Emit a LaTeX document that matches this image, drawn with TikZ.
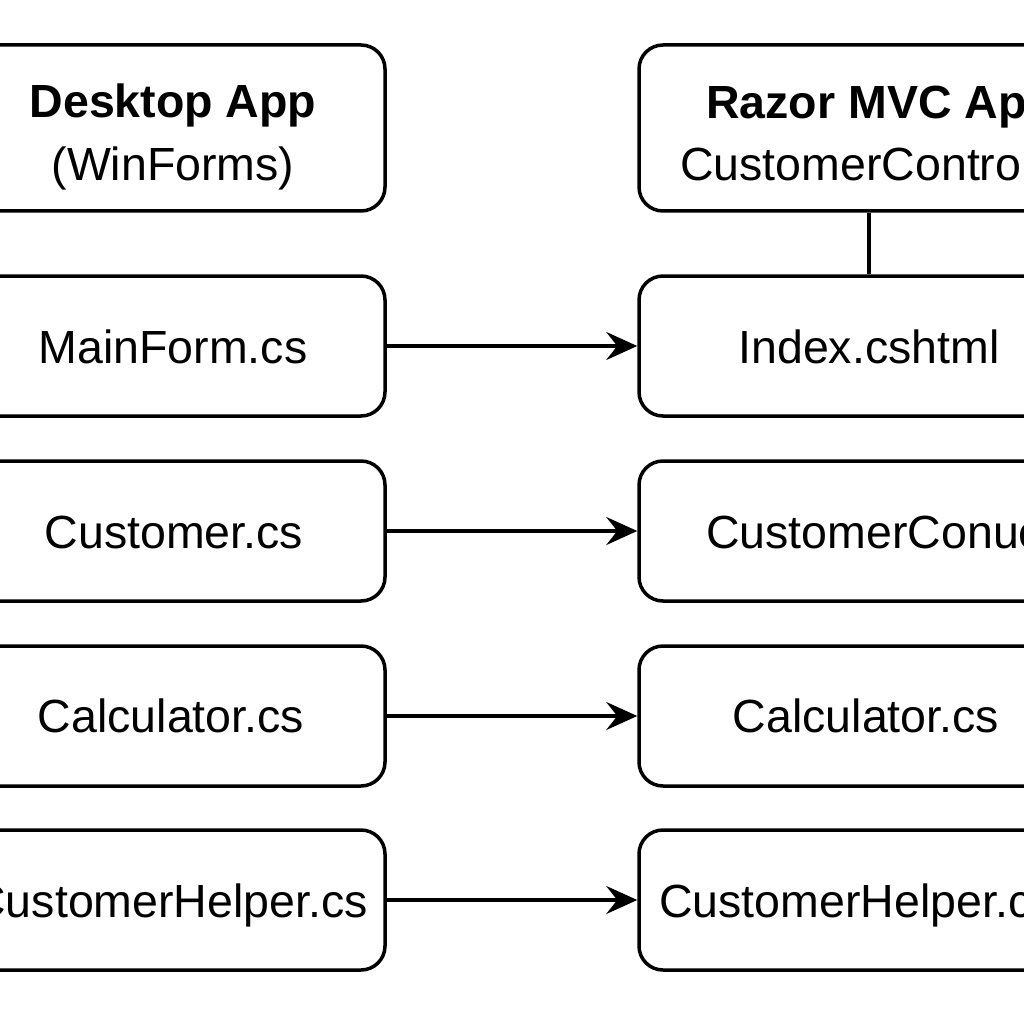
\documentclass[tikz,border=0pt]{standalone}
\usepackage{fontspec}
\setmainfont{Liberation Sans}
\usetikzlibrary{arrows.meta}
\begin{document}
\begin{tikzpicture}[x=1pt,y=-1pt,
 box/.style={draw, line width=3.5pt, rounded corners=24pt, fill=white, inner sep=0pt},
 lbox/.style={box, minimum width=424pt},
 rbox/.style={box, minimum width=460pt},
 lbl/.style={inner sep=0pt, text height=33pt, text depth=0pt, font=\fontsize{46.5}{56}\selectfont},
 bold/.style={lbl, font=\fontsize{46.5}{56}\selectfont\bfseries},
 conn/.style={line width=3.2pt, -{Stealth[length=31pt,width=28pt,inset=11pt]}},
 link/.style={line width=3.2pt},
]
\useasboundingbox (0,0) rectangle (1024,1024);
\clip (0,0) rectangle (1024,1024);
\fill[white] (0,0) rectangle (1024,1024);
% left column
\node[lbox, minimum height=166pt] (L0) at (173,128) {};
\node[lbox, minimum height=140pt] (L1) at (173,346) {};
\node[lbox, minimum height=140pt] (L2) at (173,531) {};
\node[lbox, minimum height=140pt] (L3) at (173,716) {};
\node[lbox, minimum height=140pt] (L4) at (173,900) {};
% right column
\node[rbox, minimum height=166pt] (R0) at (869,128) {};
\node[rbox, minimum height=140pt] (R1) at (869,346) {};
\node[rbox, minimum height=140pt] (R2) at (869,531) {};
\node[rbox, minimum height=140pt] (R3) at (869,716) {};
\node[rbox, minimum height=140pt] (R4) at (869,900) {};
% texts
\node[bold] (L0a) at (173,101) {Desktop App};
\node[lbl] (L0b) at (173,164) {(WinForms)};
\node[lbl] (L1t) at (173,347) {MainForm.cs};
\node[lbl] (L2t) at (174,532) {Customer.cs};
\node[lbl] (L3t) at (171,716) {Calculator.cs};
\node[lbl, anchor=east] (L4t) at (368,901) {CustomerHelper.cs};
\node[bold, anchor=west] (R0a) at (706,102) {Razor MVC App};
\node[lbl, anchor=west] (R0b) at (680,164) {CustomerContro};
\node[lbl] (R1t) at (869,347) {Index.cshtml};
\node[lbl, anchor=west] (R2t) at (706,532) {CustomerConue};
\node[lbl] (R3t) at (866,716) {Calculator.cs};
\node[lbl, anchor=west] (R4t) at (659,901) {CustomerHelper.c};
% connectors
\draw[link] (R0) -- (R1);
\draw[conn] (L1) -- (R1);
\draw[conn] (L2) -- (R2);
\draw[conn] (L3) -- (R3);
\draw[conn] (L4) -- (R4);
\end{tikzpicture}
\end{document}
